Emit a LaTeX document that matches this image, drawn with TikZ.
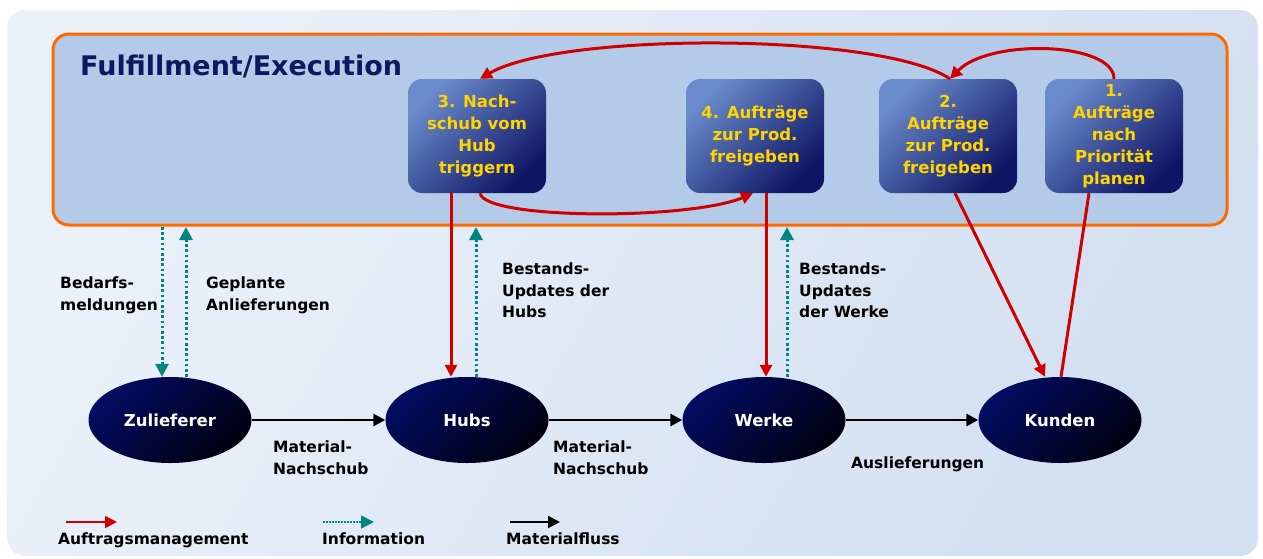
\documentclass[tikz,border=0pt]{standalone}
\usepackage{fontspec}
\setmainfont{DejaVu Sans}
\usetikzlibrary{arrows.meta,shapes.geometric}
\definecolor{bgA}{HTML}{EBF1F9}
\definecolor{bgB}{HTML}{D3E0F1}
\definecolor{frameFill}{HTML}{B3CBE8}
\definecolor{frameLine}{HTML}{FF6A00}
\definecolor{boxTL}{HTML}{6A8BCB}
\definecolor{boxBR}{HTML}{0E1564}
\definecolor{boxText}{HTML}{FFD400}
\definecolor{ellTL}{HTML}{030C62}
\definecolor{ellBR}{HTML}{000010}
\definecolor{ordRed}{HTML}{D00000}
\definecolor{infoTeal}{RGB}{0,133,128}
\definecolor{titleBlue}{HTML}{0A1A60}
\tikzset{
  stepbox/.style={rounded corners=14pt, minimum width=138pt, minimum height=114pt,
    top color=boxTL, bottom color=boxBR, shading angle=45, draw=none,
    align=center, text=boxText, font=\bfseries\fontsize{16.5}{22}\selectfont, inner sep=2pt},
  site/.style={ellipse, minimum width=163pt, minimum height=86pt,
    top color=ellTL, bottom color=ellBR, shading angle=45, draw=none,
    text=white, font=\bfseries\fontsize{16.5}{20}\selectfont},
  lbl/.style={anchor=north west, align=left, inner sep=0pt, text=black,
    font=\bfseries\fontsize{15.5}{21.5}\selectfont},
  ordarr/.style={draw=ordRed, line width=3pt, -{Triangle[length=12pt,width=12pt]}},
  ordline/.style={draw=ordRed, line width=3pt},
  infoarr/.style={draw=infoTeal, line width=3pt, dash pattern=on 2.6pt off 2.6pt,
    -{Triangle[length=13pt,width=13pt]}},
  matarr/.style={draw=black, line width=2.8pt, -{Triangle[length=12pt,width=12pt]}},
}
\begin{document}
\begin{tikzpicture}[x=1pt,y=-1pt]
\useasboundingbox (0,0) rectangle (1263,558);
% outer background
\shade[left color=bgA, right color=bgB, shading angle=60, rounded corners=18pt]
  (7,10) rectangle (1258,556);
% frame
\node[draw=frameLine, line width=3pt, fill=frameFill, rounded corners=16pt,
  minimum width=1174pt, minimum height=191pt, inner sep=0pt] (ff) at (640,129.5) {};
\node[anchor=west, text=titleBlue, font=\bfseries\fontsize{27}{30}\selectfont, inner sep=0pt]
  (title) at (80,66) {Fulfillment/Execution};
% step boxes
\node[stepbox] (b3) at (477,136) {3. Nach-\\schub vom\\Hub\\triggern};
\node[stepbox] (b4) at (755,136) {4. Aufträge\\zur Prod.\\freigeben};
\node[stepbox] (b2) at (948,136) {2.\\Aufträge\\zur Prod.\\freigeben};
\node[stepbox] (b1) at (1114,136) {1.\\Aufträge\\nach\\Priorität\\planen};
% sites
\node[site] (zul) at (170,420) {Zulieferer};
\node[site] (hub) at (467,420) {Hubs};
\node[site] (wer) at (764,420) {Werke};
\node[site] (kun) at (1060,420) {Kunden};
% material flow
\draw[matarr] (zul.east) -- (hub.west);
\draw[matarr] (hub.east) -- (wer.west);
\draw[matarr] (wer.east) -- (kun.west);
% information arrows
\coordinate (i1) at (162,227);
\coordinate (i2) at (186,227);
\coordinate (i3) at (476,227);
\coordinate (i4) at (787,227);
\draw[infoarr] (i1) -- ([xshift=-8pt]zul.north);
\draw[infoarr] ([xshift=16pt]zul.north) -- (i2);
\draw[infoarr] ([xshift=9pt]hub.north) -- (i3);
\draw[infoarr] ([xshift=23pt]wer.north) -- (i4);
% order management
\draw[ordarr] ([xshift=-26pt]b3.south) -- ([xshift=-16pt]hub.north);
\draw[ordarr] ([xshift=11pt]b4.south) -- ([xshift=2pt]wer.north);
\draw[ordarr] ([xshift=7pt]b2.south) -- ([xshift=-15pt]kun.north);
\draw[ordline] ([xshift=1pt]kun.north) -- ([xshift=-25pt]b1.south);
\draw[ordarr] (b1.north) .. controls (1114,42) and (990,38) .. ([xshift=2pt]b2.north);
\draw[ordarr] ([xshift=2pt]b2.north) .. controls (880,32) and (560,32) .. ([xshift=3pt]b3.north);
\draw[ordarr] ([xshift=3pt]b3.south) .. controls (485,220) and (690,220) .. ([xshift=-2pt]b4.south);
% labels
\node[lbl] (l1) at (60,277) {Bedarfs-\\meldungen};
\node[lbl] (l2) at (206,277) {Geplante\\Anlieferungen};
\node[lbl] (l3) at (502,263) {Bestands-\\Updates der\\Hubs};
\node[lbl] (l4) at (799,263) {Bestands-\\Updates\\der Werke};
\node[lbl] (l5) at (273,441) {Material-\\Nachschub};
\node[lbl] (l6) at (553,441) {Material-\\Nachschub};
\node[lbl] (l7) at (851,457) {Auslieferungen};
% legend
\coordinate (g1a) at (66,522); \coordinate (g1b) at (117,522);
\coordinate (g2a) at (323,522); \coordinate (g2b) at (374,522);
\coordinate (g3a) at (510,522); \coordinate (g3b) at (560,522);
\draw[ordarr, line width=1.8pt] (g1a) -- (g1b);
\draw[infoarr, line width=1.8pt, dash pattern=on 1.5pt off 1.5pt] (g2a) -- (g2b);
\draw[matarr, line width=1.8pt] (g3a) -- (g3b);
\node[lbl] (k1) at (58,533) {Auftragsmanagement};
\node[lbl] (k2) at (322,533) {Information};
\node[lbl] (k3) at (506,533) {Materialfluss};
\end{tikzpicture}
\end{document}
